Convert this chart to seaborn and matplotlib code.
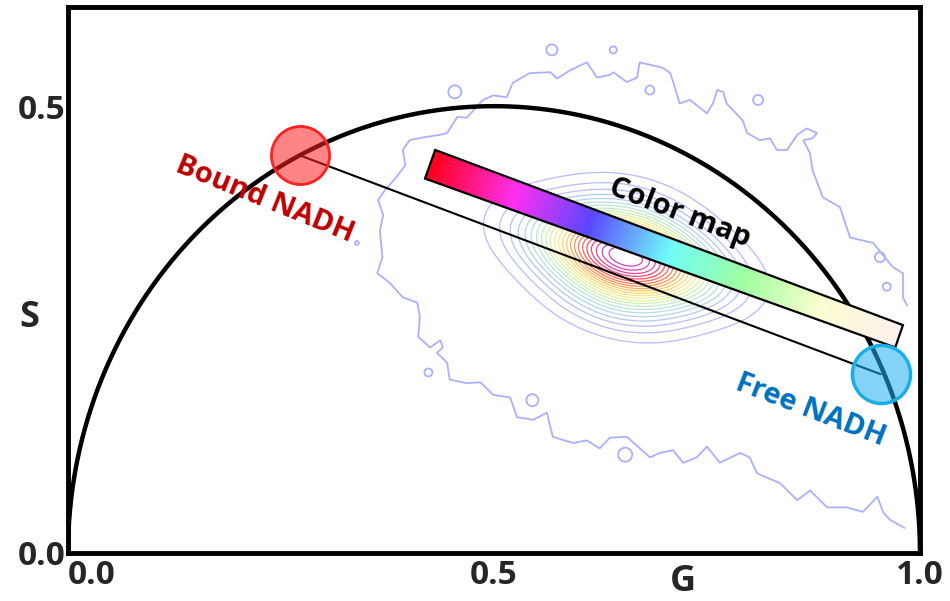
import numpy as np
import matplotlib
matplotlib.use("Agg")
import matplotlib.pyplot as plt
from matplotlib.colors import LinearSegmentedColormap
from matplotlib.patches import Polygon
import seaborn as sns

# pure species on the universal circle
bound_g, bound_s = 0.272, 0.445
free_g, free_s = 0.954, 0.200

# main phasor cluster, weighted points
cluster_g = [0.578, 0.616, 0.655, 0.694, 0.732, 0.666, 0.644]
cluster_s = [0.353, 0.343, 0.333, 0.323, 0.313, 0.374, 0.292]
cluster_w = [1.0, 2.0, 4.0, 2.0, 1.0, 1.2, 1.8]

# outermost (lowest) contour, traced
outline_g = [0.982, 0.965, 0.957, 0.950, 0.933, 0.914, 0.891, 0.871, 0.856, 0.836,
             0.809, 0.800, 0.789, 0.765, 0.750, 0.738, 0.722, 0.710, 0.695, 0.683,
             0.656, 0.636, 0.624, 0.609, 0.593, 0.569, 0.562, 0.546, 0.527, 0.519,
             0.499, 0.484, 0.468, 0.448, 0.445, 0.433, 0.440, 0.437, 0.425, 0.411,
             0.413, 0.410, 0.393, 0.378, 0.363, 0.369, 0.366, 0.370, 0.364, 0.372,
             0.384, 0.396, 0.393, 0.401, 0.417, 0.437, 0.445, 0.451, 0.457, 0.468,
             0.487, 0.499, 0.515, 0.522, 0.542, 0.566, 0.574, 0.581, 0.589, 0.609,
             0.621, 0.636, 0.640, 0.656, 0.668, 0.671, 0.698, 0.707, 0.718, 0.730,
             0.738, 0.750, 0.757, 0.762, 0.769, 0.773, 0.792, 0.797, 0.812, 0.824,
             0.832, 0.844, 0.856, 0.867, 0.879, 0.874, 0.863, 0.871, 0.874, 0.886,
             0.906, 0.918, 0.945, 0.968, 0.980, 0.980, 0.985]
outline_s = [0.028, 0.037, 0.045, 0.063, 0.046, 0.051, 0.051, 0.070, 0.059, 0.078,
             0.089, 0.107, 0.112, 0.101, 0.119, 0.107, 0.101, 0.115, 0.112, 0.107,
             0.130, 0.129, 0.117, 0.126, 0.123, 0.130, 0.157, 0.149, 0.152, 0.174,
             0.177, 0.191, 0.190, 0.194, 0.213, 0.224, 0.230, 0.238, 0.230, 0.242,
             0.264, 0.280, 0.286, 0.302, 0.313, 0.331, 0.361, 0.378, 0.395, 0.406,
             0.419, 0.434, 0.451, 0.462, 0.465, 0.468, 0.470, 0.479, 0.488, 0.487,
             0.507, 0.512, 0.510, 0.526, 0.537, 0.538, 0.531, 0.535, 0.540, 0.549,
             0.532, 0.535, 0.538, 0.527, 0.532, 0.549, 0.543, 0.537, 0.503, 0.507,
             0.501, 0.492, 0.503, 0.518, 0.516, 0.503, 0.484, 0.470, 0.462, 0.464,
             0.451, 0.451, 0.468, 0.475, 0.470, 0.464, 0.462, 0.447, 0.428, 0.398,
             0.387, 0.353, 0.347, 0.320, 0.313, 0.286, 0.277]

# small closed islands of the lowest contour
island_g = [0.454, 0.568, 0.640, 0.683, 0.810, 0.953, 0.961, 0.423, 0.545, 0.654, 0.339]
island_s = [0.516, 0.563, 0.563, 0.518, 0.507, 0.331, 0.298, 0.202, 0.171, 0.110, 0.347]
island_px = [13, 11, 7, 9, 10, 10, 8, 8, 12, 14, 4]

# colour bar geometry (top and bottom edges, left -> right)
bar_top_g, bar_top_s = [0.431, 0.980], [0.451, 0.255]
bar_bot_g, bar_bot_s = [0.419, 0.971], [0.419, 0.230]

bar_colors = [(0.0, "#ff0018"), (0.18, "#ff30f0"), (0.34, "#5a48ff"), (0.51, "#70fcf8"),
              (0.67, "#a0ffa0"), (0.83, "#fafdd0"), (1.0, "#fdf0ee")]
contour_colors = ["#a8b0ff", "#a8b8f8", "#a8dcd8", "#c4eca4", "#f4ec78",
                  "#ffc048", "#ff7030", "#ff3040", "#e0209c", "#c020c8"]

sns.set_style("white")
plt.rcParams["font.family"] = ["Open Sans", "DejaVu Sans"]
plt.rcParams["font.weight"] = "bold"

fig = plt.figure(figsize=(9.5, 6.01), dpi=100)
ax = fig.add_axes([0.0716, 0.0799, 0.8968, 0.9085])

contour_cmap = LinearSegmentedColormap.from_list("phasor", contour_colors)
sns.kdeplot(x=cluster_g, y=cluster_s, weights=cluster_w, levels=24, thresh=0.04,
            bw_adjust=1.68, cmap=contour_cmap, linewidths=0.9, alpha=0.85,
            ax=ax, zorder=1)

blue = "#a9b1ff"
ax.plot(outline_g, outline_s, color=blue, lw=1.3, zorder=1)
ax.scatter(island_g, island_s, s=[(0.72 * d) ** 2 for d in island_px],
           facecolors="none", edgecolors=blue, linewidths=1.3, zorder=1)

# universal semicircle
theta = np.linspace(0, np.pi, 400)
ax.plot(0.5 + 0.5 * np.cos(theta), 0.5 * np.sin(theta), color="black", lw=3.2, zorder=3)

# bound -> free line
ax.plot([bound_g, free_g], [bound_s, free_s], color="black", lw=1.5, zorder=3)

# colour bar drawn along the line
t = np.linspace(0, 1, 200)
X = np.vstack([np.interp(t, [0, 1], bar_bot_g), np.interp(t, [0, 1], bar_top_g)])
Y = np.vstack([np.interp(t, [0, 1], bar_bot_s), np.interp(t, [0, 1], bar_top_s)])
C = np.vstack([t, t])
bar_cmap = LinearSegmentedColormap.from_list("bar", bar_colors)
ax.pcolormesh(X, Y, C, shading="gouraud", cmap=bar_cmap, zorder=4)
ax.add_patch(Polygon([[bar_top_g[0], bar_top_s[0]], [bar_top_g[1], bar_top_s[1]],
                      [bar_bot_g[1], bar_bot_s[1]], [bar_bot_g[0], bar_bot_s[0]]],
                     closed=True, fill=False, ec="black", lw=1.6, zorder=5))

# markers for the pure species
ax.scatter([bound_g], [bound_s], s=1750, facecolors=[(1.0, 0.13, 0.13, 0.55)],
           edgecolors="#ff2020", linewidths=2, zorder=6)
ax.scatter([free_g], [free_s], s=1750, facecolors=[(0.13, 0.69, 0.94, 0.55)],
           edgecolors="#1aaee6", linewidths=2.5, zorder=6)

ax.text(0.231, 0.396, "Bound NADH", color="#c00000", fontsize=21, fontweight="bold",
        rotation=-22, rotation_mode="anchor", ha="center", va="center", zorder=7)
ax.text(0.871, 0.160, "Free NADH", color="#0070c0", fontsize=21, fontweight="bold",
        rotation=-21, rotation_mode="anchor", ha="center", va="center", zorder=7)
ax.text(0.718, 0.380, "Color map", color="black", fontsize=21, fontweight="bold",
        rotation=-21, rotation_mode="anchor", ha="center", va="center", zorder=7)

ax.set_xlim(0, 1)
ax.set_ylim(0, 0.611)
ax.set_xticks([0, 0.5, 1.0])
ax.set_xticklabels(["0.0", "0.5", "1.0"])
ax.set_yticks([0, 0.5])
ax.set_yticklabels(["0.0", "0.5"])
ax.tick_params(axis="x", length=0, labelsize=24, pad=4)
ax.tick_params(axis="y", length=0, labelsize=24, pad=2)
for lab in ax.get_xticklabels() + ax.get_yticklabels():
    lab.set_fontweight("bold")
ax.get_xticklabels()[0].set_ha("left")

ax.set_xlabel("G", fontsize=26, fontweight="bold")
ax.xaxis.set_label_coords(0.722, -0.020)
ax.set_ylabel("S", fontsize=26, fontweight="bold", rotation=0, ha="center", va="center")
ax.yaxis.set_label_coords(-0.045, 0.43)

for sp in ax.spines.values():
    sp.set_visible(True)
    sp.set_color("black")
    sp.set_linewidth(3.5)

fig.savefig("out.png", dpi=100)
